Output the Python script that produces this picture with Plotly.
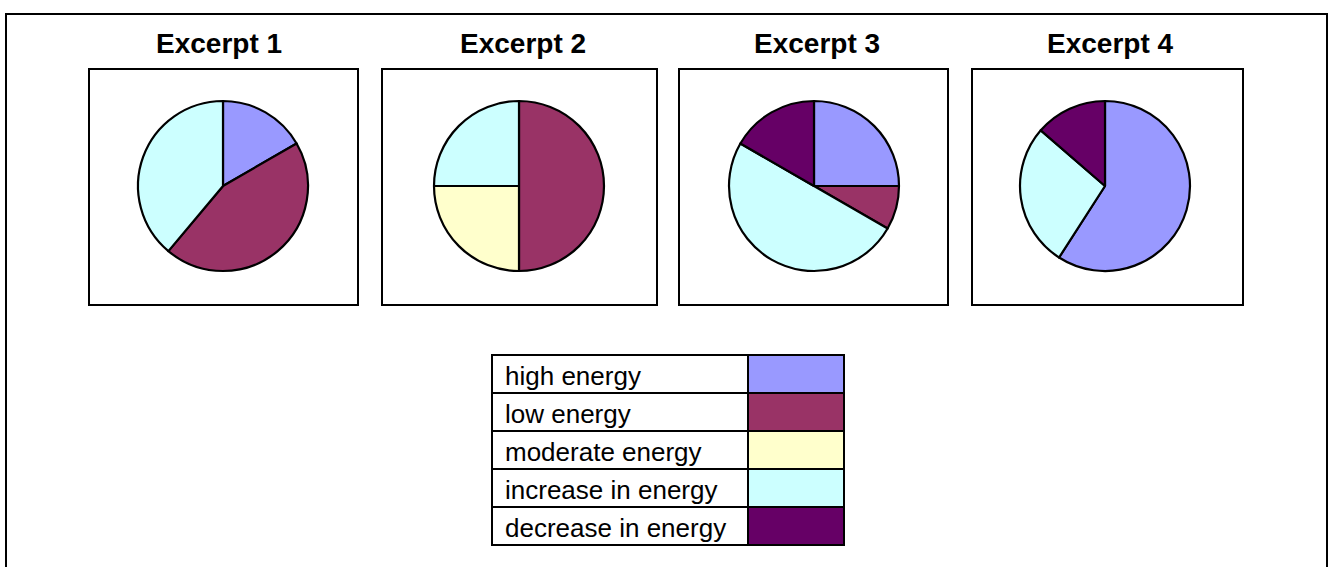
import plotly.graph_objects as go

W, H = 1329, 567

categories = ["high energy", "low energy", "moderate energy", "increase in energy", "decrease in energy"]
colors = ["#9999FF", "#993366", "#FFFFCC", "#CCFFFF", "#660066"]
titles = ["Excerpt 1", "Excerpt 2", "Excerpt 3", "Excerpt 4"]
excerpt1 = [3, 8, 0, 7, 0]
excerpt2 = [0, 2, 1, 1, 0]
excerpt3 = [3, 1, 0, 6, 2]
excerpt4 = [13, 0, 0, 6, 3]
series = [excerpt1, excerpt2, excerpt3, excerpt4]

# layout geometry (pixels)
boxes = [(89, 69, 358, 305), (382, 69, 657, 305), (679, 69, 948, 305), (972, 69, 1243, 305)]
pie_centers = [(223, 186), (519, 186), (814, 186), (1105, 186)]
pie_r = 85
title_x = [219, 523, 817, 1110]
title_y = 43

def px(x):
    return x / W

def py(y):
    return 1 - y / H

FONT = "Arial, Liberation Sans, sans-serif"

fig = go.Figure()
for vals, (cx, cy), name in zip(series, pie_centers, titles):
    labs = [c for c, v in zip(categories, vals) if v > 0]
    cols = [col for col, v in zip(colors, vals) if v > 0]
    v2 = [v for v in vals if v > 0]
    fig.add_trace(go.Pie(
        labels=labs, values=v2, sort=False, direction="clockwise", rotation=0,
        marker=dict(colors=cols, line=dict(color="black", width=2.2)),
        textinfo="none", hoverinfo="label+value+percent", name=name,
        showlegend=False,
        domain=dict(x=[px(cx - pie_r), px(cx + pie_r)], y=[py(cy + pie_r), py(cy - pie_r)]),
    ))

shapes = []
# outer border
shapes.append(dict(type="rect", xref="paper", yref="paper", x0=px(6), x1=px(1327), y0=py(568), y1=py(14),
                   line=dict(color="black", width=2), fillcolor="rgba(0,0,0,0)"))
for (x0, y0, x1, y1) in boxes:
    shapes.append(dict(type="rect", xref="paper", yref="paper", x0=px(x0), x1=px(x1), y0=py(y1), y1=py(y0),
                       line=dict(color="black", width=2), fillcolor="rgba(0,0,0,0)"))

annotations = []
for t, tx in zip(titles, title_x):
    annotations.append(dict(text="<b>%s</b>" % t, x=px(tx), y=py(title_y), xref="paper", yref="paper",
                            xanchor="center", yanchor="middle", showarrow=False,
                            font=dict(family=FONT, size=28, color="black")))

# legend table
lx0, lx1, ldiv = 492, 844, 748
ly0, row_h = 355, 38
for i, (cat, col) in enumerate(zip(categories, colors)):
    y0 = ly0 + i * row_h
    y1 = y0 + row_h
    shapes.append(dict(type="rect", xref="paper", yref="paper", x0=px(ldiv), x1=px(lx1), y0=py(y1), y1=py(y0),
                       line=dict(color="black", width=2), fillcolor=col))
    shapes.append(dict(type="rect", xref="paper", yref="paper", x0=px(lx0), x1=px(ldiv), y0=py(y1), y1=py(y0),
                       line=dict(color="black", width=2), fillcolor="white"))
    annotations.append(dict(text=cat, x=px(503), y=py((y0 + y1) / 2 + 2), xref="paper", yref="paper",
                            xanchor="left", yanchor="middle", showarrow=False,
                            font=dict(family=FONT, size=26, color="black")))

fig.update_layout(
    width=W, height=H, margin=dict(l=0, r=0, t=0, b=0),
    paper_bgcolor="white", plot_bgcolor="white",
    shapes=shapes, annotations=annotations, showlegend=False,
)
fig.write_html("out.html", config={"displayModeBar": False},
               post_script="document.body.style.margin='0';document.body.style.padding='0';"
                           "document.body.style.overflow='hidden';")
